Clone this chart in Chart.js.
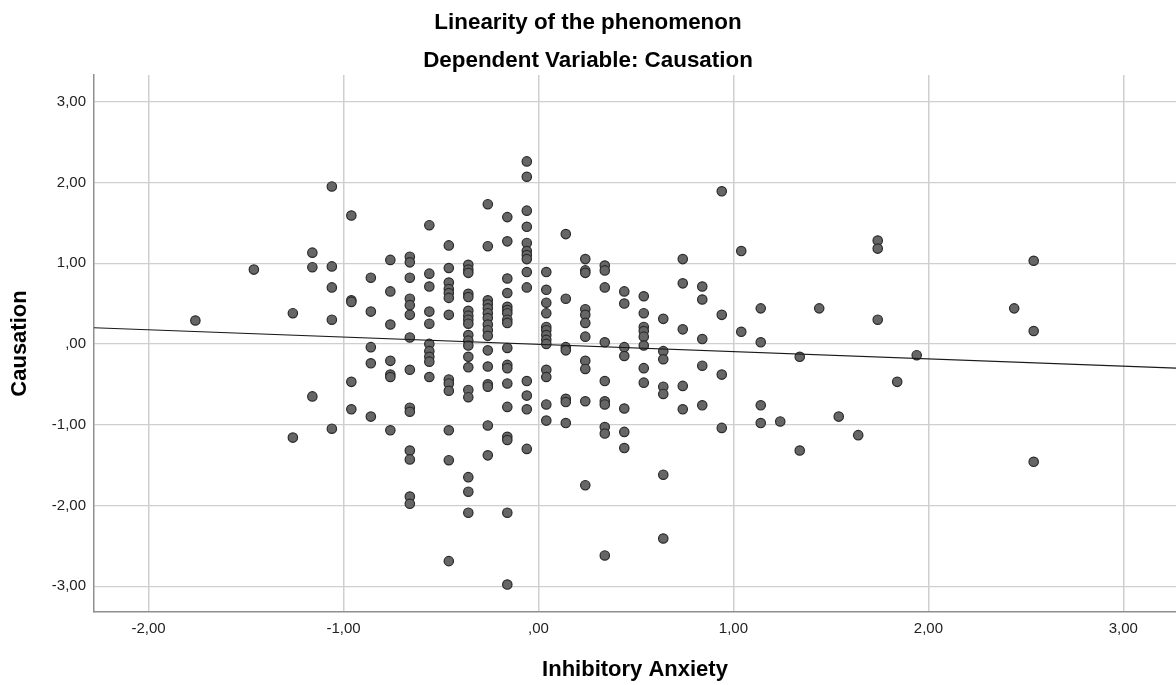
<!DOCTYPE html>
<html>
<head>
<meta charset="utf-8">
<title>Linearity of the phenomenon</title>
<script src="https://cdn.jsdelivr.net/npm/chart.js@4.4.1/dist/chart.umd.min.js"></script>
<style>
    body { margin: 0; background: #fff; }
    #box { width: 1176px; height: 685px; }
</style>
</head>
<body>
<div id="box"><canvas id="linearityChart"></canvas></div>
<script>

/* ================= DATA ================= */

// Inhibitory Anxiety levels (x) and the Causation scores observed at each level (y)
const anxietyLevels = [
    -1.76, -1.46, -1.26, -1.16, -1.06, -0.96, -0.86, -0.76, -0.66, -0.56,
    -0.46, -0.36, -0.26, -0.16, -0.06, 0.04, 0.14, 0.24, 0.34, 0.44,
    0.54, 0.64, 0.74, 0.84, 0.94, 1.04, 1.14, 1.24, 1.34, 1.44,
    1.54, 1.64, 1.74, 1.84, 1.94, 2.44, 2.54
];

const causationByLevel = [
    [0.29],
    [0.92],
    [0.38, -1.16],
    [1.13, 0.95, -0.65],
    [1.95, 0.96, 0.70, 0.30, -1.05],
    [1.59, 0.54, 0.52, -0.47, -0.81],
    [0.82, 0.40, -0.04, -0.24, -0.90],
    [1.04, 0.65, 0.24, -0.21, -0.38, -0.41, -1.07],
    [1.08, 1.01, 0.82, 0.56, 0.48, 0.36, 0.08, -0.32, -0.79, -0.84, -1.32, -1.43, -1.89, -1.98],
    [1.47, 0.87, 0.71, 0.40, 0.25, 0.00, -0.09, -0.16, -0.22, -0.41],
    [1.22, 0.94, 0.76, 0.68, 0.63, 0.57, 0.36, -0.44, -0.49, -0.58, -1.07, -1.44, -2.69],
    [0.98, 0.92, 0.88, 0.62, 0.58, 0.41, 0.35, 0.30, 0.25, 0.11, 0.04, -0.02, -0.16, -0.29, -0.57, -0.66, -1.65, -1.83, -2.09],
    [1.73, 1.21, 0.54, 0.49, 0.44, 0.38, 0.32, 0.24, 0.17, 0.10, -0.08, -0.28, -0.50, -0.53, -1.01, -1.38],
    [1.57, 1.27, 0.81, 0.63, 0.46, 0.42, 0.38, 0.30, 0.26, -0.05, -0.26, -0.30, -0.49, -0.78, -1.15, -1.19, -2.09, -2.98],
    [2.26, 2.07, 1.65, 1.45, 1.25, 1.15, 1.10, 1.05, 0.89, 0.70, -0.46, -0.64, -0.81, -1.30],
    [0.89, 0.67, 0.51, 0.38, 0.21, 0.17, 0.11, 0.05, 0.00, -0.32, -0.41, -0.75, -0.95],
    [1.36, 0.56, -0.04, -0.08, -0.68, -0.72, -0.98],
    [1.05, 0.91, 0.88, 0.43, 0.36, 0.26, 0.09, -0.21, -0.31, -0.71, -1.75],
    [0.97, 0.91, 0.70, 0.02, -0.46, -0.71, -0.75, -1.03, -1.11, -2.62],
    [0.65, 0.50, -0.04, -0.15, -0.80, -1.09, -1.29],
    [0.59, 0.38, 0.21, 0.16, 0.09, -0.02, -0.30, -0.48],
    [0.31, -0.09, -0.19, -0.53, -0.62, -1.62, -2.41],
    [1.05, 0.75, 0.18, -0.52, -0.81],
    [0.71, 0.55, 0.06, -0.27, -0.76],
    [1.89, 0.36, -0.38, -1.04],
    [1.15, 0.15],
    [0.44, 0.02, -0.76, -0.98],
    [-0.96],
    [-0.16, -1.32],
    [0.44],
    [-0.90],
    [-1.13],
    [1.28, 1.18, 0.30],
    [-0.47],
    [-0.14],
    [0.44],
    [1.03, 0.16, -1.46]
];

// fit line
const fitIntercept = -0.005;
const fitSlope = -0.09;

// axis ranges and ticks
const xRange = [-2.28, 3.27];
const yRange = [-3.32, 3.33];

const xTicks = [-2, -1, 0, 1, 2, 3];
const xTickLabels = ['-2,00', '-1,00', ',00', '1,00', '2,00', '3,00'];

const yTicks = [-3, -2, -1, 0, 1, 2, 3];
const yTickLabels = ['-3,00', '-2,00', '-1,00', ',00', '1,00', '2,00', '3,00'];


/* ================= BUILD ================= */

const points = anxietyLevels.flatMap((x, i) =>
    causationByLevel[i].map(y => ({ x: x, y: y }))
);

const fitLine = xRange.map(x => ({ x: x, y: fitIntercept + fitSlope * x }));

const fontFamily = "'Liberation Sans', Arial, sans-serif";

function useTicks(values) {
    return function(scale) {
        scale.ticks = values.map(v => ({ value: v }));
    };
}

function tickText(values, labels) {
    return function(value) {
        const i = values.indexOf(value);
        return i >= 0 ? labels[i] : '';
    };
}


/* ================= CHART ================= */

new Chart(document.getElementById('linearityChart'), {

    type: 'scatter',

    data: {
        datasets: [
            {
                type: 'line',
                label: 'Fit',
                data: fitLine,
                borderColor: '#1a1a1a',
                borderWidth: 1.2,
                pointRadius: 0,
                fill: false,
                order: 0
            },
            {
                label: 'Causation',
                data: points,
                backgroundColor: '#666666',
                borderColor: '#2a2a2a',
                borderWidth: 1.2,
                pointRadius: 4.7,
                order: 1
            }
        ]
    },

    options: {

        responsive: true,
        maintainAspectRatio: false,
        animation: false,

        layout: {
            padding: 0,
            autoPadding: false
        },

        plugins: {

            legend: {
                display: false
            },

            tooltip: {
                enabled: false
            },

            title: {
                display: true,
                text: ['Linearity of the phenomenon', 'Dependent Variable: Causation'],
                color: '#000',
                font: {
                    family: fontFamily,
                    size: 22.4,
                    weight: 'bold',
                    lineHeight: '38px'
                },
                padding: {
                    top: 4,
                    bottom: -5
                }
            }
        },

        scales: {

            x: {
                type: 'linear',
                min: xRange[0],
                max: xRange[1],
                afterBuildTicks: useTicks(xTicks),
                afterFit: function(scale) {
                    scale.height = 73;
                },
                grid: {
                    color: '#cfcfcf',
                    lineWidth: 1.5,
                    drawTicks: false
                },
                border: {
                    display: true,
                    color: '#8f8f8f',
                    width: 1.5
                },
                ticks: {
                    padding: 8,
                    color: '#222',
                    maxRotation: 0,
                    font: {
                        family: fontFamily,
                        size: 15
                    },
                    callback: tickText(xTicks, xTickLabels)
                },
                title: {
                    display: true,
                    text: 'Inhibitory Anxiety',
                    color: '#000',
                    font: {
                        family: fontFamily,
                        size: 22,
                        weight: 'bold'
                    },
                    padding: {
                        top: 0,
                        bottom: 2
                    }
                }
            },

            y: {
                type: 'linear',
                min: yRange[0],
                max: yRange[1],
                afterBuildTicks: useTicks(yTicks),
                afterFit: function(scale) {
                    scale.width = 94;
                },
                grid: {
                    color: '#cfcfcf',
                    lineWidth: 1.3,
                    drawTicks: false
                },
                border: {
                    display: true,
                    color: '#8f8f8f',
                    width: 1.5
                },
                ticks: {
                    padding: 8,
                    color: '#222',
                    font: {
                        family: fontFamily,
                        size: 15
                    },
                    callback: tickText(yTicks, yTickLabels)
                },
                title: {
                    display: true,
                    text: 'Causation',
                    color: '#000',
                    font: {
                        family: fontFamily,
                        size: 22,
                        weight: 'bold'
                    },
                    padding: {
                        top: 7,
                        bottom: 0
                    }
                }
            }
        }
    }
});

</script>
</body>
</html>
